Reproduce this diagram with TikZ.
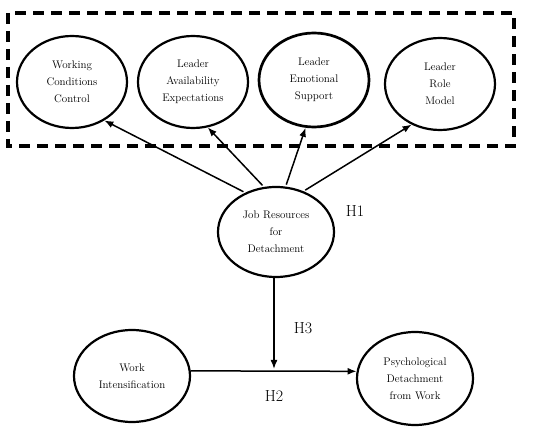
\documentclass[tikz,border=0pt]{standalone}
\usetikzlibrary{shapes.geometric,arrows.meta}
\begin{document}
\begin{tikzpicture}[x=1pt,y=-1pt,
  oval/.style={ellipse,draw,line width=2.2pt,inner sep=0pt,minimum width=110pt,minimum height=92pt,align=center,font=\fontsize{11}{17}\selectfont},
  arr/.style={line width=1.5pt,-{Latex[length=9pt,width=7pt]}},
  hlab/.style={font=\fontsize{16}{18}\selectfont}]
\useasboundingbox (0,0) rectangle (550,430);
\draw[line width=3.2pt,dash pattern=on 11pt off 7pt] (8,13) rectangle (514,146);
\node[oval] (wcc) at (72,82) {Working\\Conditions\\Control};
\node[oval] (lae) at (193,82) {Leader\\Availability\\Expectations};
\node[oval,line width=2.7pt,minimum height=94pt] (les) at (314,80) {Leader\\Emotional\\Support};
\node[oval] (lrm) at (440,84) {Leader\\Role\\Model};
\node[oval,minimum width=116pt,minimum height=90pt] (jr) at (276,232) {Job Resources\\for\\Detachment};
\node[oval,minimum width=116pt] (wi) at (132,376) {Work\\Intensification};
\node[oval,minimum width=116pt,minimum height=93pt] (pd) at (415,378.5) {Psychological\\Detachment\\from Work};
\node[hlab] (h1) at (355,211) {H1};
\node[hlab] (h3) at (303,328) {H3};
\node[hlab] (h2) at (274,396) {H2};
\coordinate (m) at (274,369);
\draw[arr,shorten <=2pt] (jr.128) -- (wcc.-50);
\draw[arr,shorten <=2pt] (jr.105) -- (lae.-72);
\draw[arr,shorten <=2pt] (jr.78) -- (les.-100);
\draw[arr,shorten <=2pt] (jr.56) -- (lrm.-125);
\draw[arr] (jr.south -| m) -- (m);
\draw[arr] (wi.5) -- (pd.173);
\end{tikzpicture}
\end{document}
